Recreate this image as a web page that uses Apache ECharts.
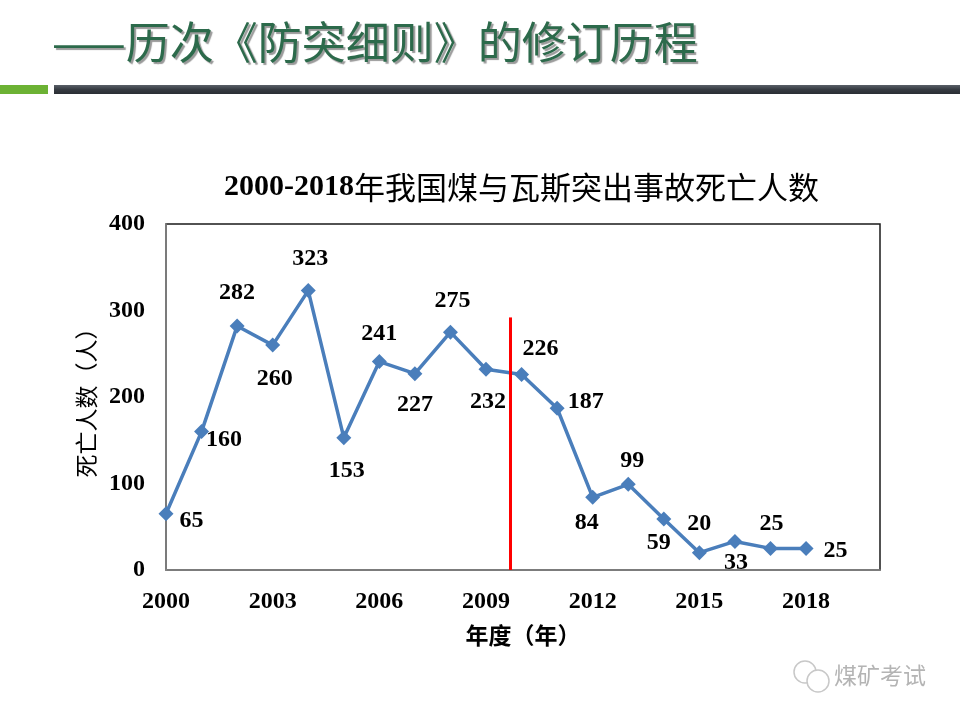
<!DOCTYPE html>
<html>
<head>
<meta charset="utf-8">
<script src="https://cdn.jsdelivr.net/npm/echarts@6/dist/echarts.min.js"></script>
<style>
  html, body { margin: 0; padding: 0; background: #fff; }
  #main { width: 960px; height: 720px; }
</style>
</head>
<body>
<div id="main"></div>
<script>
// ---- data ----
const years = [2000, 2001, 2002, 2003, 2004, 2005, 2006, 2007, 2008, 2009,
               2010, 2011, 2012, 2013, 2014, 2015, 2016, 2017, 2018];
const deaths = [65, 160, 282, 260, 323, 153, 241, 227, 275, 232,
                226, 187, 84, 99, 59, 20, 33, 25, 25];
const yTicks = [0, 100, 200, 300, 400];
const xTickStep = 3;
const revisionYear = 2009.67;     // red vertical line (2009 revision)
const revisionLineTop = 292;

const pageTitle = '——历次《防突细则》的修订历程';
const chartTitleNum = '2000-2018';
const chartTitleText = '年我国煤与瓦斯突出事故死亡人数';
const yName = '死亡人数（人）';
const xName = '年度（年）';
const watermark = '煤矿考试';

// label placement per point (style, not data)
const labelPlace = [
  ['right', [-6, 7]], ['right', [-15, 8]], ['top', [0, -2]], ['bottom', [2, 2]], ['top', [2, 0]],
  ['bottom', [3, 2]], ['top', [0, 4]], ['bottom', [0, 0]], ['top', [2, 0]], ['bottom', [2, 1]],
  ['top', [19, 6]], ['right', [-9, -6]], ['bottom', [-6, -6]], ['top', [4, 8]], ['bottom', [-5, -8]],
  ['top', [0, 3]], ['bottom', [1, -10]], ['top', [1, 7]], ['right', [-2, 2]]
];

const seriesData = years.map((y, i) => ({
  value: [y, deaths[i]],
  label: { position: labelPlace[i][0], offset: labelPlace[i][1] }
}));

const chart = echarts.init(document.getElementById('main'));
const numFont = '"Liberation Serif", "Times New Roman", serif';

chart.setOption({
  backgroundColor: '#ffffff',
  animation: false,
  title: {
    text: '{a|' + chartTitleNum + '}{b|' + chartTitleText + '}',
    left: 219,
    top: 167,
    textStyle: {
      rich: {
        a: { fontFamily: numFont, fontWeight: 'bold', fontSize: 30, color: '#000' },
        b: { fontFamily: '"Noto Sans CJK SC"', fontWeight: 'normal', fontSize: 31, color: '#000' }
      }
    }
  },
  graphic: [
    { type: 'text', left: 52, top: 20,
      style: { text: pageTitle, fontFamily: '"Noto Sans CJK SC"', fontSize: 44, fontWeight: 'normal',
               fill: '#2c6a4b', textShadowColor: 'rgba(0,0,0,0.4)', textShadowOffsetX: 2, textShadowOffsetY: 2, textShadowBlur: 1 } },
    { type: 'rect', shape: { x: 0, y: 85, width: 48, height: 9 }, style: { fill: '#6cb234' } },
    { type: 'rect', shape: { x: 54, y: 85, width: 906, height: 9 },
      style: { fill: new echarts.graphic.LinearGradient(0, 0, 0, 1, [
        { offset: 0, color: '#5a6068' }, { offset: 0.5, color: '#363b42' }, { offset: 1, color: '#2a2e34' }]) } },
    { type: 'circle', shape: { cx: 805, cy: 672, r: 11 }, style: { fill: 'none', stroke: '#c8c8c8', lineWidth: 1.5 } },
    { type: 'circle', shape: { cx: 818, cy: 681, r: 11 }, style: { fill: '#fff', stroke: '#c8c8c8', lineWidth: 1.5 } },
    { type: 'text', left: 834, top: 664,
      style: { text: watermark, fontFamily: '"Noto Sans CJK SC"', fontSize: 23, fill: '#b4b4b4' } }
  ],
  grid: {
    left: 166, right: 80, top: 224, bottom: 150,
    show: true, borderColor: '#1a1a1a', borderWidth: 1.5, backgroundColor: 'transparent'
  },
  xAxis: {
    type: 'value',
    min: 2000, max: 2020.08,
    interval: xTickStep,
    name: xName,
    nameLocation: 'middle',
    nameGap: 54,
    nameTextStyle: { fontFamily: '"Noto Sans CJK SC"', fontWeight: 'bold', fontSize: 23, color: '#000' },
    axisLine: { lineStyle: { color: '#8a8a8a', width: 1.5 } },
    axisTick: { show: false },
    splitLine: { show: false },
    axisLabel: {
      margin: 20,
      fontFamily: numFont, fontWeight: 'bold', fontSize: 24, color: '#000',
      formatter: v => ((v - 2000) % xTickStep === 0 && v <= 2018) ? String(v) : ''
    }
  },
  yAxis: {
    type: 'value',
    min: yTicks[0], max: yTicks[yTicks.length - 1],
    interval: yTicks[1] - yTicks[0],
    name: yName,
    nameLocation: 'middle',
    nameGap: 66,
    nameRotate: 90,
    nameTextStyle: { fontFamily: '"Noto Sans CJK SC"', fontSize: 23, color: '#000' },
    axisLine: { show: true, lineStyle: { color: '#8a8a8a', width: 1.5 } },
    axisTick: { show: false },
    splitLine: { show: false },
    axisLabel: { margin: 21, fontFamily: numFont, fontWeight: 'bold', fontSize: 24, color: '#000' }
  },
  series: [{
    type: 'line',
    data: seriesData,
    symbol: 'diamond',
    symbolSize: 15,
    lineStyle: { color: '#4a7ebb', width: 3.5 },
    itemStyle: { color: '#4a7ebb' },
    label: {
      show: true,
      distance: 12,
      fontFamily: numFont, fontWeight: 'bold', fontSize: 24, color: '#000',
      formatter: p => String(p.value[1])
    },
    markLine: {
      silent: true,
      symbol: 'none',
      label: { show: false },
      lineStyle: { color: '#ff0000', width: 3, type: 'solid' },
      data: [[{ coord: [revisionYear, 0] }, { coord: [revisionYear, revisionLineTop] }]]
    },
    z: 3
  }]
});
</script>
</body>
</html>
